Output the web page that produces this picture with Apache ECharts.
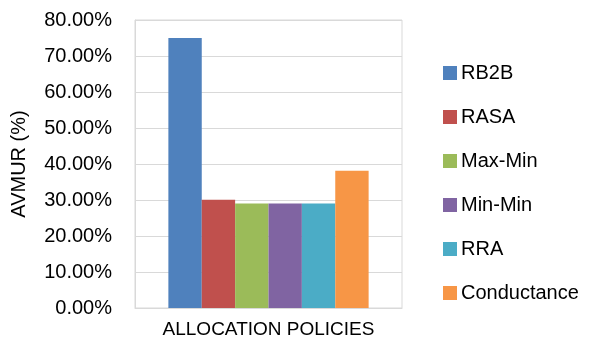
<!DOCTYPE html>
<html>
<head>
    <meta charset="UTF-8">
    <title>AVMUR</title>
    <script src="https://cdn.jsdelivr.net/npm/echarts@6/dist/echarts.min.js"></script>
    <style>
        html, body { margin: 0; padding: 0; background: #fff; }
        #main { width: 589px; height: 339px; }
    </style>
</head>
<body>
<div id="main"></div>
<script type="text/javascript">
    // 数据
    var categories = ['ALLOCATION POLICIES'];
    var policyNames = ['RB2B', 'RASA', 'Max-Min', 'Min-Min', 'RRA', 'Conductance'];
    var policyValues = [75.0, 30.1, 29.0, 29.0, 29.0, 38.1];
    var policyColors = ['#4F81BD', '#C0504D', '#9BBB59', '#8064A2', '#4BACC6', '#F79646'];

    var fontName = 'Liberation Sans, Arial, sans-serif';

    var series = policyNames.map(function (name, i) {
        return {
            name: name,
            type: 'bar',
            barGap: '0%',
            barCategoryGap: '25%',
            itemStyle: { color: policyColors[i] },
            data: [policyValues[i]]
        };
    });

    var myChart = echarts.init(document.getElementById('main'));
    var option = {
        animation: false,
        textStyle: { fontFamily: fontName },
        grid: {
            left: 135,
            top: 20,
            width: 267,
            height: 290,
            show: true,
            borderColor: '#d9d9d9',
            borderWidth: 1
        },
        legend: {
            orient: 'vertical',
            left: 438,
            top: 58,
            icon: 'rect',
            itemWidth: 14,
            itemHeight: 14,
            itemGap: 24,
            textStyle: { fontSize: 20, color: '#000', fontFamily: fontName, padding: [0, 0, 0, -1] },
            data: policyNames
        },
        xAxis: {
            type: 'category',
            data: categories,
            axisTick: { show: false },
            axisLine: { lineStyle: { color: '#d9d9d9' } },
            axisLabel: { fontSize: 19, color: '#000', margin: 12, fontFamily: fontName }
        },
        yAxis: {
            type: 'value',
            min: 0,
            max: 80,
            interval: 10,
            name: 'AVMUR (%)',
            nameLocation: 'middle',
            nameGap: 106,
            nameTextStyle: { fontSize: 20, color: '#000', fontFamily: fontName },
            axisLine: { show: true, lineStyle: { color: '#d9d9d9' } },
            axisTick: { show: false },
            splitLine: { lineStyle: { color: '#d9d9d9', width: 1 } },
            axisLabel: {
                fontSize: 20,
                color: '#000',
                margin: 23,
                fontFamily: fontName,
                formatter: function (v) { return v.toFixed(2) + '%'; }
            }
        },
        series: series
    };
    myChart.setOption(option);
</script>
</body>
</html>
